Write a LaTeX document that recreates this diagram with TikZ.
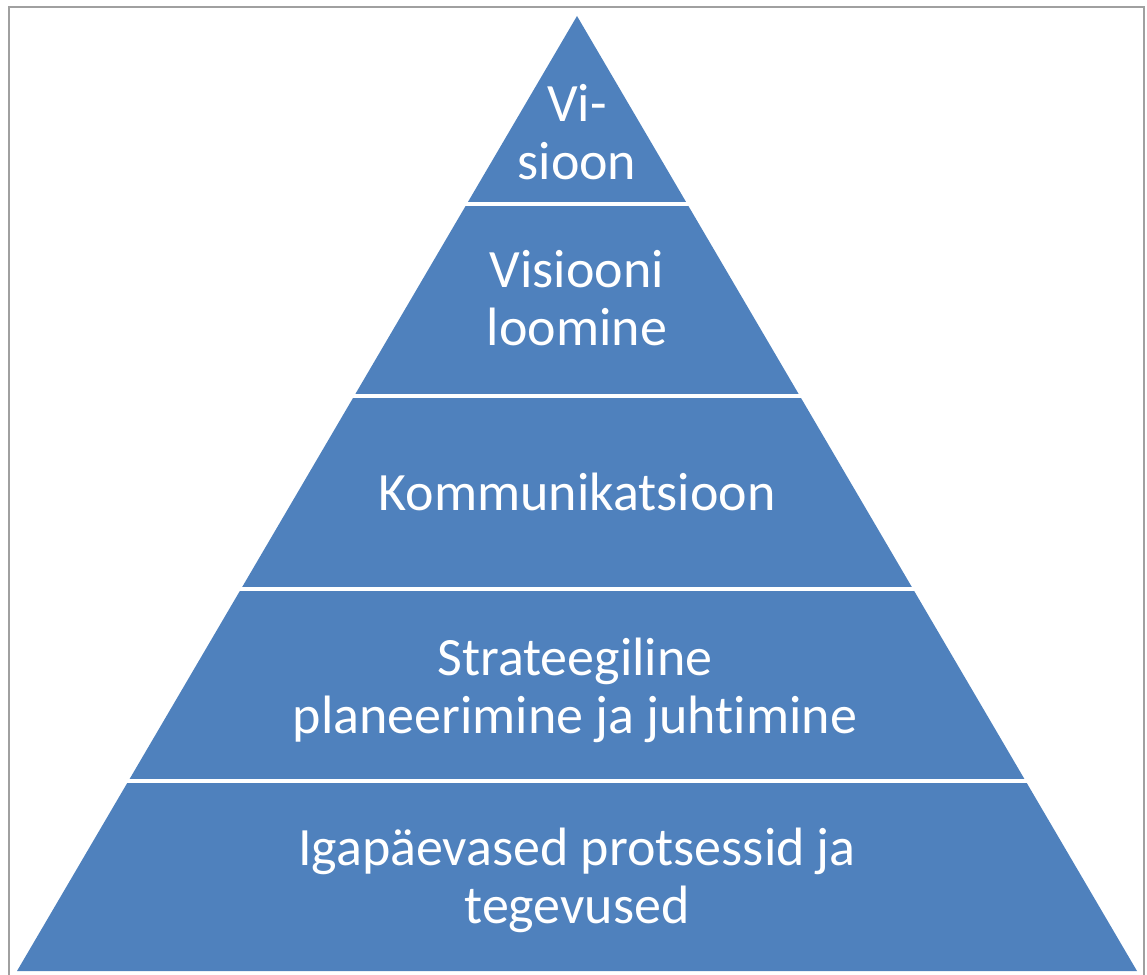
\documentclass[tikz,border=0pt]{standalone}
\usepackage{fontspec}
\setmainfont{Carlito}[Ligatures={NoCommon}]
\definecolor{layerblue}{HTML}{4F81BD}
\definecolor{framegray}{HTML}{A0A0A0}
\begin{document}
\begin{tikzpicture}[x=1pt,y=-1pt,
  layertext/.style={text=white, align=center, inner sep=0pt,
    font=\fontsize{54}{58}\selectfont}]
  \useasboundingbox (0,0) rectangle (1147,974);
  % outer frame, open at the bottom edge
  \draw[framegray, line width=2pt] (9,980) -- (9,7) -- (1144,7) -- (1144,980);
  % pyramid: clip to the triangle and fill the five bands
  \coordinate (apex) at (577,16);
  \coordinate (bl) at (17,971);
  \coordinate (br) at (1137,971);
  \begin{scope}
    \clip (apex) -- (br) -- (bl) -- cycle;
    \fill[layerblue] (0,0)   rectangle (1147,202);
    \fill[layerblue] (0,206) rectangle (1147,394);
    \fill[layerblue] (0,398) rectangle (1147,587);
    \fill[layerblue] (0,591) rectangle (1147,779);
    \fill[layerblue] (0,783) rectangle (1147,980);
  \end{scope}
  % band labels
  \node[layertext] (l1) at (577,132) {Vi-\\sioon};
  \node[layertext] (l2) at (577,298) {Visiooni\\loomine};
  \node[layertext] (l3) at (577,492) {Kommunikatsioon};
  \node[layertext] (l4) at (575,690) {Strateegiline\\planeerimine ja juhtimine};
  \node[layertext] (l5) at (577,880) {Igapäevased protsessid ja\\tegevused};
\end{tikzpicture}
\end{document}
